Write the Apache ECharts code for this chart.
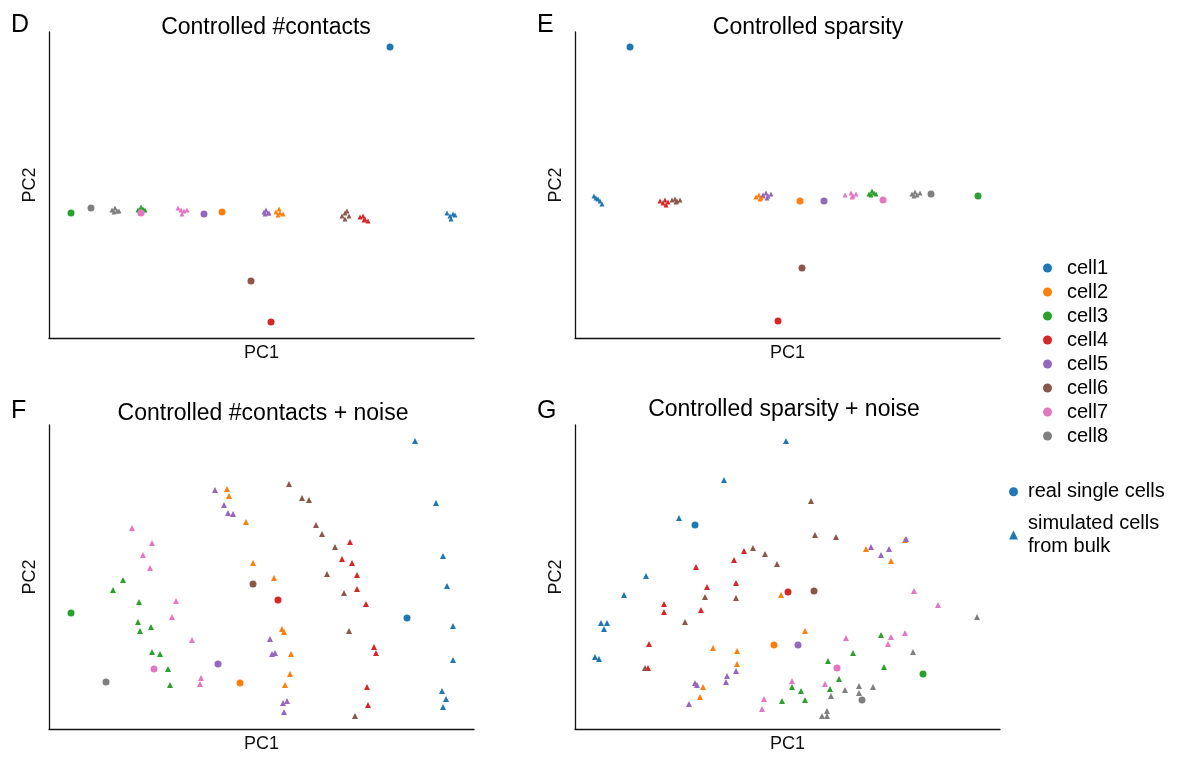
<!DOCTYPE html>
<html><head><meta charset="utf-8">
<script src="https://cdn.jsdelivr.net/npm/echarts@6/dist/echarts.min.js"></script>
<style>html,body{margin:0;padding:0;background:#fff}#c{width:1185px;height:762px}</style>
</head><body><div id="c"></div>
<script>
const FONT = 'Liberation Sans, Arial, Helvetica, sans-serif';
const cells = ['cell1','cell2','cell3','cell4','cell5','cell6','cell7','cell8'];
const colors = ['#1f77b4','#ff7f0e','#2ca02c','#d62728','#9467bd','#8c564b','#e377c2','#7f7f7f'];
const panelLetters = ['D','E','F','G'];
const panelTitles = ['Controlled #contacts','Controlled sparsity','Controlled #contacts + noise','Controlled sparsity + noise'];
const shapeLegend = ['real single cells','simulated cells\nfrom bulk'];

// Panel D: Controlled #contacts  (real cells, one per cell type)
const D_real = [[34.1,29.1],[17.3,12.6],[2.2,12.5],[22.2,1.6],[15.5,12.4],[20.2,5.7],[9.2,12.5],[4.2,13.0]];
const D_sim = [
  [[39.8,12.5],[40.1,12.2],[40.4,12.4],[40.2,11.9],[40.6,12.3]],
  [[22.7,12.6],[23.0,12.9],[23.1,12.5],[23.4,12.4],[22.9,12.3]],
  [[8.9,12.8],[9.2,13.1],[9.4,12.9],[9.6,12.8],[9.1,12.7]],
  [[31.1,12.1],[31.4,12.2],[31.6,11.9],[31.9,11.7],[31.5,11.8]],
  [[21.5,12.6],[21.7,12.8],[21.9,12.5],[21.6,12.4],[22.0,12.5]],
  [[29.3,12.2],[29.6,12.5],[29.8,12.7],[30.0,12.2],[29.6,11.9]],
  [[12.9,13.0],[13.2,12.8],[13.5,12.7],[13.8,12.8],[13.3,12.4]],
  [[6.3,12.8],[6.6,13.0],[6.8,12.7],[7.0,12.7],[6.5,12.6]]
];

// Panel E: Controlled sparsity
const E_real = [[5.5,29.1],[22.5,13.7],[40.3,14.2],[20.3,1.7],[24.9,13.7],[22.7,7.0],[30.8,13.8],[35.6,14.4]];
const E_sim = [
  [[1.9,14.2],[2.1,14.0],[2.3,13.9],[2.5,13.7],[2.7,13.4]],
  [[18.1,14.1],[18.4,14.3],[18.6,14.0],[18.8,14.2],[18.5,13.9]],
  [[29.4,14.4],[29.7,14.7],[29.9,14.5],[30.1,14.4],[29.6,14.3]],
  [[8.5,13.7],[8.8,13.5],[9.0,13.8],[9.1,13.3],[9.3,13.6]],
  [[18.8,14.3],[19.1,14.5],[19.3,14.2],[19.6,14.4],[19.2,14.0]],
  [[9.7,13.8],[10.0,13.9],[10.2,13.7],[10.5,13.8],[10.1,13.6]],
  [[27.0,14.3],[27.6,14.5],[27.8,14.2],[28.1,14.4],[27.7,14.1]],
  [[33.7,14.4],[34.0,14.6],[34.2,14.3],[34.5,14.5],[33.9,14.2]]
];

// Panel F: Controlled #contacts + noise
const F_real = [[35.8,11.1],[19.1,4.6],[2.2,11.6],[22.9,12.9],[16.9,6.5],[20.4,14.5],[10.5,6.0],[5.7,4.7]];
const F_sim = [
  [[36.6,28.8],[38.7,22.6],[39.4,17.3],[39.8,14.3],[40.4,10.3],[40.4,6.9],[39.3,3.8],[39.7,3.0],[39.4,2.2]],
  [[17.8,24.0],[18.0,23.3],[19.7,20.7],[20.4,16.6],[22.5,15.1],[23.3,10.0],[23.5,9.7],[24.2,7.5],[24.1,5.5],[23.6,4.4]],
  [[6.4,13.9],[7.4,14.9],[9.0,12.7],[8.9,10.7],[10.2,10.2],[9.1,9.8],[10.3,7.7],[11.1,7.5],[11.9,6.0],[12.1,4.4]],
  [[30.1,18.7],[29.3,17.0],[30.3,16.6],[30.8,15.4],[30.8,14.0],[31.7,12.5],[32.5,8.2],[32.7,7.6],[31.8,4.2],[31.9,2.4]],
  [[16.6,23.9],[17.5,22.4],[17.9,21.6],[18.4,21.5],[22.1,9.0],[22.3,7.5],[22.6,7.6],[23.4,2.6],[23.8,2.8],[23.5,1.7]],
  [[24.0,24.5],[25.3,23.1],[26.0,22.9],[26.7,20.4],[27.3,19.5],[28.6,18.2],[27.8,15.5],[29.5,13.6],[30.0,9.8],[30.6,1.3]],
  [[8.3,20.1],[10.3,18.6],[9.4,17.4],[10.1,16.1],[12.7,12.8],[12.3,11.2],[14.3,8.9],[15.2,5.1],[15.1,4.5]],
  []
];

// Panel G: Controlled sparsity + noise
const G_real = [[12.0,20.4],[19.9,8.4],[34.8,5.5],[21.3,13.7],[22.3,8.4],[23.9,13.8],[26.2,6.1],[28.7,2.9]];
const G_sim = [
  [[21.1,28.8],[14.9,24.9],[10.4,21.1],[7.1,15.3],[4.9,13.4],[2.6,10.6],[3.2,10.6],[2.9,10.0],[2.0,7.2],[2.4,7.0]],
  [[29.1,18.0],[31.6,16.8],[33.0,18.9],[20.6,13.4],[13.8,8.1],[16.2,7.8],[16.2,6.5],[12.8,4.2],[12.5,3.2],[23.0,9.8]],
  [[30.6,9.4],[27.8,7.6],[25.3,6.8],[30.9,6.2],[26.4,5.0],[21.7,4.2],[22.6,3.8],[25.5,4.0],[20.7,2.8],[23.0,2.9]],
  [[16.9,17.8],[15.9,16.9],[12.1,16.2],[13.2,14.2],[16.1,14.6],[8.9,12.5],[8.9,11.7],[12.6,11.9],[7.4,8.5],[7.3,6.1]],
  [[29.6,18.2],[30.6,17.4],[31.4,18.0],[33.1,19.0],[16.1,5.8],[15.2,5.3],[15.1,4.7],[12.0,4.6],[12.2,4.4],[11.4,2.5]],
  [[17.8,18.1],[19.0,17.5],[20.2,16.5],[23.6,22.8],[24.0,19.4],[26.1,19.2],[13.0,13.2],[16.1,13.1],[11.0,10.7],[7.0,6.1]],
  [[33.9,13.8],[36.3,12.4],[27.1,9.1],[31.6,9.2],[33.0,9.6],[31.3,8.5],[21.7,4.8],[25.0,4.5],[18.9,3.0],[18.7,2.0]],
  [[40.2,11.2],[33.8,7.7],[27.0,3.9],[28.4,4.3],[29.8,4.2],[25.6,3.3],[28.4,3.6],[25.2,1.8],[24.7,1.3],[25.2,1.3]]
];

const panelsReal = [D_real, E_real, F_real, G_real];
const panelsSim = [D_sim, E_sim, F_sim, G_sim];

const gridPos = [
  {left:49, top:32, width:425, height:306},
  {left:575, top:32, width:425, height:306},
  {left:49, top:425, width:425, height:304},
  {left:575, top:425, width:425, height:304}
];
const yMax = [30.6, 30.6, 30.4, 30.4];
const titlePos = [[266,16],[808,16],[263,402],[784,398]];
const letterPos = [[11,13],[537,13],[11,399],[537,399]];

const axisLine = {show:true, onZero:false, lineStyle:{color:'#111', width:1.3}};
const xAxes = gridPos.map((g,i)=>({type:'value', gridIndex:i, min:0, max:42.5, name:'PC1', nameLocation:'middle', nameGap:6,
  nameTextStyle:{fontSize:18, color:'#111', fontFamily:FONT, verticalAlign:'top'},
  axisLine, axisTick:{show:false}, axisLabel:{show:false}, splitLine:{show:false}}));
const yAxes = gridPos.map((g,i)=>({type:'value', gridIndex:i, min:0, max:yMax[i], name:'PC2', nameLocation:'middle', nameGap:10,
  nameTextStyle:{fontSize:18, color:'#111', fontFamily:FONT},
  axisLine, axisTick:{show:false}, axisLabel:{show:false}, splitLine:{show:false}}));

const series = [];
for (let p=0;p<4;p++){
  const big = p>=2;
  for (let c=0;c<8;c++){
    series.push({type:'scatter', name:cells[c], xAxisIndex:p, yAxisIndex:p, symbol:'triangle', symbolSize: big?6:5,
      data: panelsSim[p][c], itemStyle:{color:colors[c], opacity:1}, silent:true, z:2});
  }
  for (let c=0;c<8;c++){
    series.push({type:'scatter', name:cells[c], xAxisIndex:p, yAxisIndex:p, symbol:'circle', symbolSize:7,
      data: [panelsReal[p][c]], itemStyle:{color:colors[c], opacity:1}, silent:true, z:3});
  }
}
series.push({type:'scatter', name:shapeLegend[0], xAxisIndex:0, yAxisIndex:0, symbol:'circle', data:[], itemStyle:{color:'#1f77b4', opacity:1}});
series.push({type:'scatter', name:shapeLegend[1], xAxisIndex:0, yAxisIndex:0, symbol:'triangle', data:[], itemStyle:{color:'#1f77b4', opacity:1}});

const titles = [];
for (let p=0;p<4;p++){
  titles.push({text:panelTitles[p], left:titlePos[p][0], top:titlePos[p][1], textAlign:'center', padding:0,
    textStyle:{fontSize:23, fontWeight:'normal', color:'#000', fontFamily:FONT}});
  titles.push({text:panelLetters[p], left:letterPos[p][0], top:letterPos[p][1], padding:0,
    textStyle:{fontSize:25, fontWeight:'normal', color:'#000', fontFamily:FONT}});
}

const chart = echarts.init(document.getElementById('c'), null, {renderer:'canvas'});
chart.setOption({
  animation:false,
  backgroundColor:'#fff',
  title: titles,
  grid: gridPos.map(g=>Object.assign({containLabel:false}, g)),
  xAxis: xAxes,
  yAxis: yAxes,
  legend: [
    {data: cells.map(n=>({name:n, icon:'circle'})), orient:'vertical', left:1043, top:258, padding:0,
     itemWidth:9, itemHeight:9, itemGap:4, selectedMode:false,
     textStyle:{fontSize:20, color:'#000', lineHeight:20, fontFamily:FONT, padding:[0,0,0,10]}},
    {data: [{name:shapeLegend[0], icon:'circle'},{name:shapeLegend[1], icon:'triangle'}], orient:'vertical', left:1009, top:480, padding:0,
     itemWidth:9, itemHeight:9, itemGap:8, selectedMode:false,
     textStyle:{fontSize:20, color:'#000', lineHeight:23.5, fontFamily:FONT, padding:[0,0,0,5]}}
  ],
  series
});
</script></body></html>
